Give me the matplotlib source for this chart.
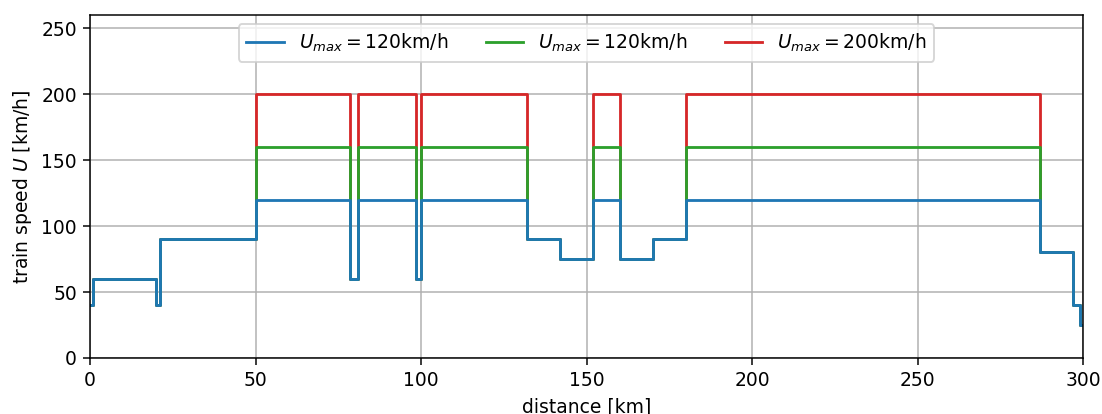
import matplotlib
matplotlib.use("Agg")
import matplotlib.pyplot as plt

# breakpoints along the line [km] and the speed limit that starts there [km/h]
distance = [0, 1, 20, 21, 50, 78.5, 81, 98.5, 100, 132, 142, 152, 160, 170, 180, 287, 297, 299, 300]
speed_lo = [40, 60, 40, 90, 120, 60, 120, 60, 120, 90, 75, 120, 75, 90, 120, 80, 40, 25, 25]
speed_mid = [40, 60, 40, 90, 160, 60, 160, 60, 160, 90, 75, 160, 75, 90, 160, 80, 40, 25, 25]
speed_hi = [40, 60, 40, 90, 200, 60, 200, 60, 200, 90, 75, 200, 75, 90, 200, 80, 40, 25, 25]
labels = [r"$U_{max}=120$km/h", r"$U_{max}=120$km/h", r"$U_{max}=200$km/h"]

dpi = 135
fig = plt.figure(figsize=(1102 / dpi, 414 / dpi), dpi=dpi)
ax = fig.add_axes([0.0817, 0.1353, 0.9011, 0.8285])

l3, = ax.plot(distance, speed_hi, drawstyle="steps-post", color="tab:red", label=labels[2])
l2, = ax.plot(distance, speed_mid, drawstyle="steps-post", color="tab:green", label=labels[1])
l1, = ax.plot(distance, speed_lo, drawstyle="steps-post", color="tab:blue", label=labels[0])

ax.set_xlim(0, 300)
ax.set_ylim(0, 260)
ax.set_xlabel("distance [km]")
ax.set_ylabel("train speed $U$ [km/h]")
ax.grid(True)
ax.legend(handles=[l1, l2, l3], loc="upper center", ncol=3)

fig.savefig("out.png", dpi=dpi)
